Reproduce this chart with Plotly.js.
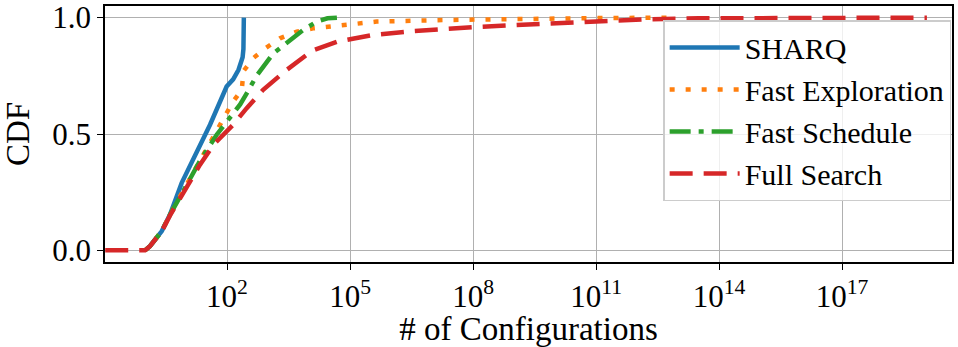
<!DOCTYPE html>
<html>
<head>
<meta charset="utf-8">
<script src="https://cdn.plot.ly/plotly-3.0.1.min.js"></script>
<style>html,body{margin:0;padding:0;background:#fff;}#chart{width:958px;height:347px;}</style>
</head>
<body>
<div id="chart"></div>
<script>
// Series names
const seriesNames = ["SHARQ", "Fast Exploration", "Fast Schedule", "Full Search"];

// SHARQ
const sharqX = [1, 1.32, 2.57, 4.07, 7.85, 18.2, 38.5, 97.7, 141, 190.5, 240, 251, 257];
const sharqY = [0, 0.018, 0.083, 0.154, 0.29, 0.426, 0.54, 0.704, 0.735, 0.776, 0.83, 0.865, 1.0];

// Fast Exploration
const fastExpX = [1, 1.32, 2.57, 4.07, 8.9, 21.9, 51.3, 81.3, 141, 229, 251, 437, 851, 1950, 5012, 12590, 32360, 83180, 2.09e5, 4.47e5, 2.29e7, 1e9, 1e11, 6.3e12];
const fastExpY = [0, 0.018, 0.083, 0.154, 0.262, 0.383, 0.504, 0.568, 0.64, 0.69, 0.77, 0.826, 0.868, 0.911, 0.94, 0.954, 0.962, 0.973, 0.979, 0.983, 0.99, 0.995, 0.998, 1.0];

// Fast Schedule
const fastSchX = [1, 1.32, 2.57, 4.07, 8.9, 21.9, 56, 209, 302, 525, 1318, 3467, 7244, 15490, 28180, 47860];
const fastSchY = [0, 0.018, 0.083, 0.154, 0.26, 0.385, 0.497, 0.627, 0.675, 0.75, 0.845, 0.904, 0.947, 0.983, 0.997, 1.0];

// Full Search
const fullX = [0.107, 1, 1.32, 2.57, 4.07, 8.91, 21.9, 46.8, 141, 302, 759, 2818, 12020, 50120, 354800, 2.88e6, 1.91e7, 1.23e8, 7.94e8, 6.31e9, 3.98e10, 2.63e11, 2.0e12, 3.16e13, 1e15, 1.17e19];
const fullY = [0, 0, 0.018, 0.083, 0.15, 0.255, 0.368, 0.454, 0.54, 0.611, 0.69, 0.775, 0.858, 0.897, 0.925, 0.941, 0.952, 0.96, 0.967, 0.974, 0.98, 0.987, 0.993, 0.997, 0.999, 1.0];

// Axis ticks
const xTickVals = [1e2, 1e5, 1e8, 1e11, 1e14, 1e17];
const xTickText = ["10<sup>2</sup>", "10<sup>5</sup>", "10<sup>8</sup>", "10<sup>11</sup>", "10<sup>14</sup>", "10<sup>17</sup>"];
const yTickVals = [0, 0.5, 1.0];
const yTickText = ["0.0", "0.5", "1.0"];

const FONT = "Liberation Serif, Times New Roman, serif";

const traces = [
  {x: sharqX, y: sharqY, name: seriesNames[0], legendgroup: "a", mode: "lines",
   line: {color: "#1f77b4", width: 4.5, dash: "solid"}},
  {x: fastExpX, y: fastExpY, name: seriesNames[1], legendgroup: "b", mode: "lines",
   line: {color: "#ff7f0e", width: 4.5, dash: "5px,11px"}},
  {x: fastSchX, y: fastSchY, name: seriesNames[2], legendgroup: "c", mode: "lines",
   line: {color: "#2ca02c", width: 4.5, dash: "21px,8px,5px,8px"}},
  {x: fullX, y: fullY, name: seriesNames[3], legendgroup: "d", mode: "lines",
   line: {color: "#d62728", width: 4.5, dash: "23px,11px"}}
];

const axisCommon = {
  showline: true, linecolor: "#000", linewidth: 1.5, mirror: true,
  ticks: "outside", ticklen: 6, tickwidth: 1.3, tickcolor: "#000",
  showgrid: true, gridcolor: "#b0b0b0", gridwidth: 1.3,
  zeroline: false,
  tickfont: {family: FONT, size: 31, color: "#000"}
};

const layout = {
  width: 958, height: 347,
  margin: {l: 105, r: 6, t: 6, b: 85},
  paper_bgcolor: "#fff", plot_bgcolor: "#fff",
  font: {family: FONT, color: "#000"},
  xaxis: Object.assign({}, axisCommon, {
    type: "log", range: [-0.976, 19.68],
    tickmode: "array", tickvals: xTickVals, ticktext: xTickText,
    title: {text: "# of Configurations", font: {family: FONT, size: 33, color: "#000"}, standoff: 8}
  }),
  yaxis: Object.assign({}, axisCommon, {
    range: [-0.05, 1.05],
    tickmode: "array", tickvals: yTickVals, ticktext: yTickText,
    title: {text: "CDF", font: {family: FONT, size: 33, color: "#000"}, standoff: 14}
  }),
  showlegend: true,
  legend: {
    x: 0.999, xanchor: "right", y: 0.945, yanchor: "top",
    bgcolor: "rgba(255,255,255,0.8)", bordercolor: "#cccccc", borderwidth: 1.5,
    font: {family: FONT, size: 30, color: "#000"},
    itemwidth: 70,
    tracegroupgap: 0
  }
};

Plotly.newPlot("chart", traces, layout, {displayModeBar: false});
</script>
</body>
</html>
